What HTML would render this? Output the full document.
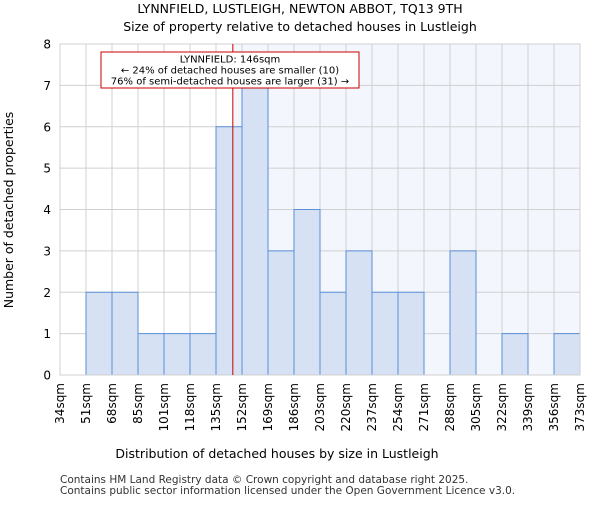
<!DOCTYPE html>
<html><head><meta charset="utf-8"><style>
body{margin:0;background:#fff;}
svg{font-family:"DejaVu Sans","Liberation Sans",sans-serif;}
</style></head><body>
<svg id="chart" width="600" height="500">
<text x="300" y="13" font-size="12.5" text-anchor="middle">LYNNFIELD, LUSTLEIGH, NEWTON ABBOT, TQ13 9TH</text>
<text x="300" y="31" font-size="12.5" text-anchor="middle">Size of property relative to detached houses in Lustleigh</text>
<g id="plot"></g>
<text x="277" y="458" font-size="12.5" text-anchor="middle">Distribution of detached houses by size in Lustleigh</text>
<text transform="translate(13,210) rotate(-90)" font-size="12.5" text-anchor="middle">Number of detached properties</text>
<text x="60" y="483" font-size="10.5" fill="#333">Contains HM Land Registry data © Crown copyright and database right 2025.</text>
<text x="60" y="494" font-size="10.5" fill="#333">Contains public sector information licensed under the Open Government Licence v3.0.</text>
</svg>
<script>
const binEdges=[34,51,68,85,101,118,135,152,169,186,203,220,237,254,271,288,305,322,339,356,373];
const counts=[0,2,2,1,1,1,6,7,3,4,2,3,2,2,0,3,0,1,0,1];
const yTicks=[0,1,2,3,4,5,6,7,8];
const propertySize=146;
const NS="http://www.w3.org/2000/svg";
const L=60,R=580,T=44,B=375;
const g=document.getElementById('plot');
const xi=i=>L+(R-L)*i/(binEdges.length-1);
function xv(v){for(let i=0;i<binEdges.length-1;i++){if(v<=binEdges[i+1])return xi(i)+(v-binEdges[i])/(binEdges[i+1]-binEdges[i])*(xi(i+1)-xi(i));}return R;}
const y=v=>B-(B-T)*v/8;
function mk(t,a){const e=document.createElementNS(NS,t);for(const k in a)e.setAttribute(k,a[k]);g.appendChild(e);return e;}
const px=xv(propertySize);
let sh=mk('rect',{x:px,y:T,width:R-px,height:B-T,fill:'#f3f6fd'});


binEdges.forEach((b,i)=>{let l=mk('line',{x1:xi(i),x2:xi(i),y1:T,y2:B,stroke:'#d0d0d0','stroke-width':1});

});
yTicks.forEach(t=>{let l=mk('line',{x1:L,x2:R,y1:y(t),y2:y(t),stroke:'#d0d0d0','stroke-width':1});


let tx=mk('text',{x:L-9,y:y(t)+4.5,'font-size':12,'text-anchor':'end'});tx.textContent=t;

});
counts.forEach((c,i)=>{if(c<=0)return;let r=mk('rect',{x:xi(i),y:y(c),width:xi(i+1)-xi(i),height:B-y(c),fill:'#d6e2f4',stroke:'#5b8fd6','stroke-width':1});

});
binEdges.forEach((b,i)=>{let tx=mk('text',{transform:`translate(${xi(i)+4},${B+8}) rotate(-90)`,'font-size':12,'text-anchor':'end'});tx.textContent=b+'sqm';

});
let ax=mk('rect',{x:L,y:T,width:R-L,height:B-T,fill:'none',stroke:'#d0d0d0'});


let rl=mk('line',{x1:px,x2:px,y1:T,y2:B,stroke:'#cc0000','stroke-width':1});


let bx=mk('rect',{x:101,y:52,width:258,height:36,fill:'#fff',stroke:'#cc0000','stroke-width':1});


['LYNNFIELD: 146sqm','← 24% of detached houses are smaller (10)','76% of semi-detached houses are larger (31) →'].forEach((s,i)=>{let tx=mk('text',{x:230,y:62.5+i*11,'font-size':10,'text-anchor':'middle'});tx.textContent=s;

});
</script>
</body></html>
